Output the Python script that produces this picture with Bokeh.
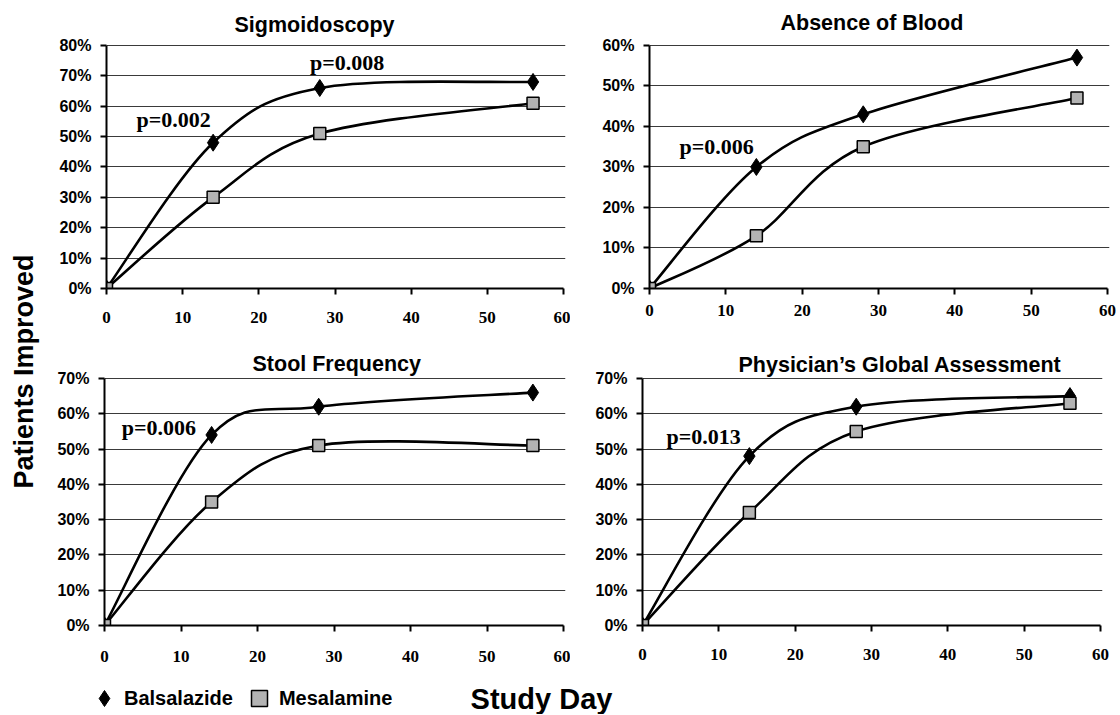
import math
from bokeh.plotting import figure
from bokeh.models import (Label, FixedTicker, PrintfTickFormatter, Legend,
                          LegendItem, Range1d, ColumnDataSource)
from bokeh.layouts import row, column
from bokeh.embed import file_html
from bokeh.resources import INLINE

# ---------------- data ----------------
days = [0, 14, 28, 56]
series_names = ["Balsalazide", "Mesalamine"]

sig_bals = [0, 48, 66, 68]
sig_mesa = [0, 30, 51, 61]
blood_bals = [0, 30, 43, 57]
blood_mesa = [0, 13, 35, 47]
stool_bals = [0, 54, 62, 66]
stool_mesa = [0, 35, 51, 51]
pga_bals = [0, 48, 62, 65]
pga_mesa = [0, 32, 55, 63]

titles = ["Sigmoidoscopy", "Absence of Blood", "Stool Frequency",
          "Physician\u2019s Global Assessment"]
x_ticks = [0, 10, 20, 30, 40, 50, 60]
y_max = [80, 60, 70, 70]
y_ticks = [[0, 10, 20, 30, 40, 50, 60, 70, 80],
           [0, 10, 20, 30, 40, 50, 60],
           [0, 10, 20, 30, 40, 50, 60, 70],
           [0, 10, 20, 30, 40, 50, 60, 70]]
p_texts = [["p=0.002", "p=0.008"], ["p=0.006"], ["p=0.006"], ["p=0.013"]]

# ---------------- layout constants (page px) ----------------
LEFT_W = 50
TOP_H, BOT_H, STRIP_H = 342, 339, 33
panels = [
    # fig box, y-axis x, x=60 px, top-tick y, zero y, x-label standoff,
    # title offset / standoff
    dict(fx=50, fy=0, fw=520, fh=TOP_H, ax=106, x60=563, yt=42, y0=288, so=17, to=128, ts=14),
    dict(fx=570, fy=0, fw=548, fh=TOP_H, ax=649, x60=1107, yt=43, y0=293, so=10, to=131, ts=17),
    dict(fx=50, fy=342, fw=520, fh=BOT_H, ax=104, x60=563, yt=378, y0=628, so=19, to=148, ts=1),
    dict(fx=570, fy=342, fw=548, fh=BOT_H, ax=642, x60=1100, yt=375, y0=625, so=17, to=96, ts=0),
]
# centres of the p-value notes, in data units of each panel
p_pos = [[(8.8, 55.6), (31.6, 74.3)], [(8.8, 35.0)], [(7.1, 56.0)], [(8.0, 53.6)]]

data = [(sig_bals, sig_mesa), (blood_bals, blood_mesa),
        (stool_bals, stool_mesa), (pga_bals, pga_mesa)]


def smooth(xs, ys):
    n = len(xs)
    P = list(zip(xs, ys))
    d = dict(x0=[], y0=[], x1=[], y1=[], cx0=[], cy0=[], cx1=[], cy1=[])
    for i in range(n - 1):
        pm, p0, p1, p2 = P[max(i - 1, 0)], P[i], P[i + 1], P[min(i + 2, n - 1)]
        d["x0"].append(p0[0]); d["y0"].append(p0[1])
        d["x1"].append(p1[0]); d["y1"].append(p1[1])
        d["cx0"].append(p0[0] + (p1[0] - pm[0]) / 6)
        d["cy0"].append(p0[1] + (p1[1] - pm[1]) / 6)
        d["cx1"].append(p1[0] - (p2[0] - p0[0]) / 6)
        d["cy1"].append(p1[1] - (p2[1] - p0[1]) / 6)
    return ColumnDataSource(d)


def make_panel(i):
    g = panels[i]
    ymax = y_max[i]
    sx = (g["x60"] - g["ax"]) / 60.0
    sy = (g["y0"] - g["yt"]) / float(ymax)
    padT, padR = 2, 2
    fl, fr = g["ax"], g["x60"] + padR
    ft, fb = g["yt"] - padT, g["y0"]
    p = figure(width=g["fw"], height=g["fh"],
               x_range=Range1d(0, 60 + padR / sx),
               y_range=Range1d(0, ymax + padT / sy),
               output_backend="svg", toolbar_location=None,
               min_border_left=fl - g["fx"], min_border_right=g["fx"] + g["fw"] - fr,
               min_border_top=ft - g["fy"], min_border_bottom=g["fy"] + g["fh"] - fb)
    p.outline_line_color = None
    p.background_fill_color = "white"
    p.border_fill_color = "white"

    p.title.text = titles[i]
    p.title.align = "left"
    p.title.offset = g["to"]
    p.title.standoff = g["ts"]
    p.title.vertical_align = "bottom"
    p.title.text_font = "Liberation Sans"
    p.title.text_font_style = "bold"
    p.title.text_font_size = "21.5px"
    p.title.text_color = "black"

    p.xaxis.bounds = (0, 60)
    p.yaxis.bounds = (0, ymax)
    p.xaxis.ticker = FixedTicker(ticks=x_ticks)
    p.yaxis.ticker = FixedTicker(ticks=y_ticks[i])
    p.yaxis.formatter = PrintfTickFormatter(format="%d%%")
    p.axis.axis_label = None
    p.axis.minor_tick_line_color = None
    p.axis.major_tick_in = 0
    p.axis.major_tick_out = 6
    p.axis.axis_line_width = 2
    p.axis.major_tick_line_width = 2
    p.axis.axis_line_color = "black"
    p.axis.major_tick_line_color = "black"
    p.xaxis.major_label_text_font = "Liberation Serif"
    p.xaxis.major_label_text_font_style = "bold"
    p.xaxis.major_label_text_font_size = "17px"
    p.xaxis.major_label_standoff = g["so"]
    p.yaxis.major_label_text_font = "Liberation Sans"
    p.yaxis.major_label_text_font_style = "bold"
    p.yaxis.major_label_text_font_size = "16px"
    p.yaxis.major_label_standoff = 9
    p.axis.major_label_text_color = "black"

    p.xgrid.visible = False
    p.ygrid.grid_line_color = "#3a3a3a"
    p.ygrid.grid_line_width = 1

    bals, mesa = data[i]
    for ys in (bals, mesa):
        p.bezier(x0="x0", y0="y0", x1="x1", y1="y1", cx0="cx0", cy0="cy0",
                 cx1="cx1", cy1="cy1", source=smooth(days, ys),
                 line_color="black", line_width=2.6)
    p.scatter(days, bals, marker="diamond", size=17, fill_color="black",
              line_color="black")
    p.scatter(days, mesa, marker="square", size=12, fill_color="#b3b3b3",
              line_color="black", line_width=1.5)

    for txt, (px, py) in zip(p_texts[i], p_pos[i]):
        p.add_layout(Label(x=px, y=py, text=txt, text_font="Liberation Serif",
                           text_font_style="bold", text_font_size="22px",
                           text_align="center", text_baseline="middle",
                           text_color="black"))
    return p


figs = [make_panel(i) for i in range(4)]

TOTAL_H = TOP_H + BOT_H + STRIP_H

# left strip with the shared y label
left = figure(width=LEFT_W, height=TOTAL_H,
              x_range=Range1d(0, 1), y_range=Range1d(0, 1),
              x_axis_location=None, y_axis_location=None, min_border=0,
              output_backend="svg", toolbar_location=None)
left.outline_line_color = None
left.grid.visible = False
left.add_layout(Label(x=23, y=TOTAL_H - 371, x_units="screen",
                      y_units="screen", text="Patients Improved",
                      angle=math.pi / 2, text_font="Liberation Sans",
                      text_font_style="bold", text_font_size="27px",
                      text_align="center", text_baseline="middle",
                      text_color="black"))

# bottom strip with legend and shared x label
nan = float("nan")
strip = figure(width=1068, height=STRIP_H, x_range=Range1d(0, 1),
               y_range=Range1d(0, 1), x_axis_location=None,
               y_axis_location=None, min_border=0,
               output_backend="svg", toolbar_location=None)
strip.outline_line_color = None
strip.grid.visible = False
rb = strip.scatter(x=[nan], y=[nan], marker="diamond", size=17,
                   fill_color="black", line_color="black")
rm = strip.scatter(x=[nan], y=[nan], marker="square", size=12,
                   fill_color="#b3b3b3", line_color="black", line_width=1.5)
legend = Legend(items=[LegendItem(label=series_names[0], renderers=[rb]),
                       LegendItem(label=series_names[1], renderers=[rm])],
                orientation="horizontal", location=(34, -4),
                glyph_width=40, glyph_height=40, label_standoff=0, spacing=6,
                padding=0, margin=0, border_line_color=None,
                background_fill_alpha=0, label_text_font="Liberation Sans",
                label_text_font_style="bold", label_text_font_size="20px",
                label_text_color="black")
strip.add_layout(legend)
strip.add_layout(Label(x=491, y=16, x_units="screen", y_units="screen",
                       text="Study Day", text_font="Liberation Sans",
                       text_font_style="bold", text_font_size="29px",
                       text_align="center", text_baseline="middle",
                       text_color="black"))

layout = row(left, column(row(figs[0], figs[1]), row(figs[2], figs[3]), strip))

open("out.html", "w").write(file_html(layout, INLINE))
